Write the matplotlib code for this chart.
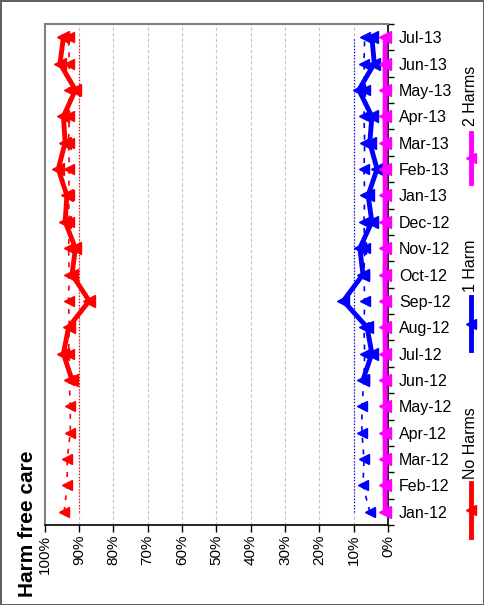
import numpy as np
import matplotlib.pyplot as plt
from matplotlib.lines import Line2D
from matplotlib.ticker import FixedLocator, PercentFormatter

plt.rcParams['font.family'] = ['Liberation Sans', 'DejaVu Sans']

# ---- data ----
months = ['Jan-12', 'Feb-12', 'Mar-12', 'Apr-12', 'May-12', 'Jun-12', 'Jul-12',
          'Aug-12', 'Sep-12', 'Oct-12', 'Nov-12', 'Dec-12', 'Jan-13', 'Feb-13',
          'Mar-13', 'Apr-13', 'May-13', 'Jun-13', 'Jul-13']

nan = np.nan
no_harms = [nan, nan, nan, nan, nan, 92.0, 94.5, 93.0, 87.0, 92.0, 91.0, 94.0,
            93.5, 96.0, 94.0, 94.5, 91.0, 95.5, 94.5]
one_harm = [nan, nan, nan, nan, nan, 7.3, 4.7, 6.1, 13.0, 7.3, 8.2, 4.7,
            5.8, 3.2, 5.3, 4.7, 8.5, 4.0, 4.7]
two_harms = [0.8, 0.9, 0.8, 0.9, 0.8, 0.9, 0.8, 0.9, 0.8, 0.9, 0.8, 0.9,
             0.8, 0.9, 0.8, 0.9, 0.8, 0.9, 0.8]

# dashed comparison series (no legend entry)
no_harms_cmp = [94.3, 93.4, 93.4, 92.5, 92.5, 92.8, 93.0, 92.8, 93.0, 92.8, 93.0,
                92.8, 93.0, 92.8, 93.0, 92.8, 93.0, 92.8, 93.0]
one_harm_cmp = [5.3, 7.3, 7.0, 7.6, 7.6, 7.0, 6.8, 7.0, 6.8, 7.0, 6.8, 7.0,
                6.8, 7.0, 6.8, 7.0, 6.8, 7.0, 6.8]

# dotted reference levels
no_harms_ref = [90.0] * len(months)
one_harm_ref = [10.0] * len(months)

RED = '#ff0000'
BLUE = '#0000ff'
MAGENTA = '#ff00ff'

y = np.arange(len(months))
to_frac = lambda v: np.array(v) / 100.0

fig = plt.figure(figsize=(4.84, 6.05), dpi=100)
fig.patch.set_edgecolor('#606060')
fig.patch.set_linewidth(2)
ax = fig.add_axes([0.092, 0.1322, 0.7097, 0.8281])

# gridlines
for g in np.arange(0.1, 1.0, 0.1):
    ax.axvline(g, color='#c4c4c4', lw=0.8, ls=(0, (3, 2)), zorder=0)

# reference dotted lines
ax.plot(to_frac(no_harms_ref), y, color=RED, lw=0.9, ls=(0, (1, 1.5)), zorder=1)
ax.plot(to_frac(one_harm_ref), y, color=BLUE, lw=0.9, ls=(0, (1, 1.5)), zorder=1)

# comparison dashed lines with markers
ax.plot(to_frac(no_harms_cmp), y, color=RED, lw=1.2, ls=(0, (3, 4)),
        marker='<', ms=7, zorder=2)
ax.plot(to_frac(one_harm_cmp), y, color=BLUE, lw=1.2, ls=(0, (3, 4)),
        marker='<', ms=7, zorder=2)

# main series
ax.plot(to_frac(no_harms), y, color=RED, lw=3.5, marker='<', ms=9, zorder=3)
ax.plot(to_frac(one_harm), y, color=BLUE, lw=3.5, marker='<', ms=9, zorder=3)
ax.plot(to_frac(two_harms), y, color=MAGENTA, lw=3.5, marker='<', ms=9, zorder=4,
        clip_on=False)

ax.set_xlim(1.0, 0.0)
ax.set_ylim(-0.5, len(months) - 0.5)

# percent axis (bottom)
ax.set_xticks(np.arange(0, 1.01, 0.1))
ax.xaxis.set_major_formatter(PercentFormatter(1.0, decimals=0))
ax.tick_params(axis='x', direction='out', length=5, width=1, pad=2,
               labelsize=11, labelrotation=90, colors='black')

# month axis (right)
ax.yaxis.tick_right()
ax.set_yticks(y)
ax.set_yticklabels(months)
ax.yaxis.set_minor_locator(FixedLocator(np.arange(-0.5, len(months), 1.0)))
ax.tick_params(axis='y', which='major', length=0, pad=8, labelsize=11.5)
ax.tick_params(axis='y', which='minor', direction='out', length=4, width=1)

for side in ['top', 'left']:
    ax.spines[side].set_color('#808080')
    ax.spines[side].set_linewidth(1.5)
ax.spines['right'].set_color('black')
ax.spines['bottom'].set_color('black')
ax.spines['right'].set_linewidth(1.2)
ax.spines['bottom'].set_linewidth(1.2)

# title
fig.text(0.056, 0.013, 'Harm free care', rotation=90, ha='center', va='bottom',
         fontsize=15, fontweight='bold')

# legend built by hand (rotated)
legend_items = [('2 Harms', MAGENTA, 0.841, 0.780, 0.697),
                ('1 Harm', BLUE, 0.560, 0.509, 0.421),
                ('No Harms', RED, 0.268, 0.202, 0.112)]
lx = 0.973
for label, col, ty, y0, y1 in legend_items:
    fig.text(lx, ty, label, rotation=90, ha='center', va='center', fontsize=11.5)
    fig.add_artist(Line2D([lx, lx], [y0, y1], color=col, lw=3.5,
                          transform=fig.transFigure))
    fig.add_artist(Line2D([lx], [(y0 + y1) / 2], color=col, marker='<', ms=7,
                          transform=fig.transFigure))

fig.savefig('out.png', dpi=100)
